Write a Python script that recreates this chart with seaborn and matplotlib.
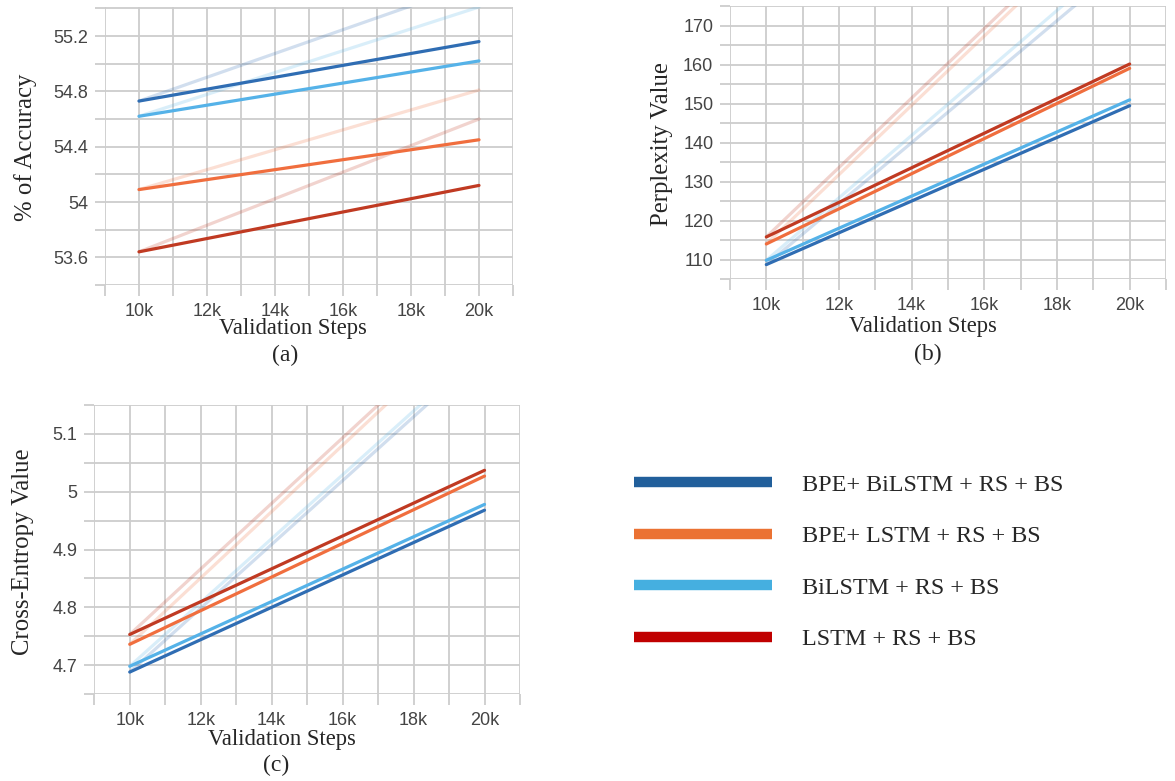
import numpy as np
import pandas as pd
import matplotlib
matplotlib.use("Agg")
import matplotlib.pyplot as plt
from matplotlib.lines import Line2D
import seaborn as sns

# ---------------- data ----------------
steps = [10000, 20000]
series_names = ["BPE+ BiLSTM + RS + BS", "BPE+ LSTM + RS + BS",
                "BiLSTM + RS + BS", "LSTM + RS + BS"]

# (a) accuracy
acc_bpe_bilstm = [54.73, 55.16]
acc_bpe_lstm = [54.09, 54.45]
acc_bilstm = [54.62, 55.02]
acc_lstm = [53.64, 54.12]
acc_bpe_bilstm_raw = [54.73, 55.59]
acc_bpe_lstm_raw = [54.09, 54.81]
acc_bilstm_raw = [54.62, 55.41]
acc_lstm_raw = [53.64, 54.60]

# (b) perplexity
ppl_bpe_bilstm = [108.7, 149.5]
ppl_bpe_lstm = [114.0, 159.1]
ppl_bilstm = [109.8, 151.0]
ppl_lstm = [115.8, 160.2]
ppl_bpe_bilstm_raw = [108.7, 187.0]
ppl_bpe_lstm_raw = [114.0, 203.0]
ppl_bilstm_raw = [109.8, 190.0]
ppl_lstm_raw = [115.8, 205.0]

# (c) cross-entropy
ce_bpe_bilstm = [4.688, 4.968]
ce_bpe_lstm = [4.736, 5.027]
ce_bilstm = [4.698, 4.978]
ce_lstm = [4.753, 5.037]
ce_bpe_bilstm_raw = [4.688, 5.24]
ce_bpe_lstm_raw = [4.736, 5.31]
ce_bilstm_raw = [4.698, 5.25]
ce_lstm_raw = [4.753, 5.32]

x_tick_labels = ["10k", "12k", "14k", "16k", "18k", "20k"]

plot_colors = ["#2f6db3", "#f06e3e", "#55b2e8", "#c03a22"]
legend_colors = ["#215f9b", "#eb7233", "#45afe0", "#c00000"]


def make_df(main, raw):
    rows = []
    for name, m, r in zip(series_names, main, raw):
        for s, v in zip(steps, m):
            rows.append({"step": s, "value": v, "series": name, "kind": "smooth"})
        for s, v in zip(steps, r):
            rows.append({"step": s, "value": v, "series": name, "kind": "raw"})
    return pd.DataFrame(rows)


df_a = make_df([acc_bpe_bilstm, acc_bpe_lstm, acc_bilstm, acc_lstm],
               [acc_bpe_bilstm_raw, acc_bpe_lstm_raw, acc_bilstm_raw, acc_lstm_raw])
df_b = make_df([ppl_bpe_bilstm, ppl_bpe_lstm, ppl_bilstm, ppl_lstm],
               [ppl_bpe_bilstm_raw, ppl_bpe_lstm_raw, ppl_bilstm_raw, ppl_lstm_raw])
df_c = make_df([ce_bpe_bilstm, ce_bpe_lstm, ce_bilstm, ce_lstm],
               [ce_bpe_bilstm_raw, ce_bpe_lstm_raw, ce_bilstm_raw, ce_lstm_raw])

# ---------------- style ----------------
sns.set_theme(style="white")
plt.rcParams["font.family"] = ["Liberation Serif", "DejaVu Serif"]

W, H = 1175, 781
fig = plt.figure(figsize=(W / 100, H / 100), dpi=100)
fig.patch.set_facecolor("white")


def px_axes(left, right, top, bottom):
    return fig.add_axes([left / W, 1 - bottom / H, (right - left) / W, (bottom - top) / H])


ax_a = px_axes(105, 513, 7, 285)
ax_b = px_axes(730, 1166, 6, 279)
ax_c = px_axes(94.3, 520, 405, 694)

palette = dict(zip(series_names, plot_colors))
grid_col = "#cdcdcd"
tick_font = dict(family=["Liberation Sans", "DejaVu Sans"], size=13, color="#444444")


def setup(ax, df, ylim, yticks, ylabels, ylabel, tag, xl_pos, tag_pos, yl_pos):
    raw = df[df.kind == "raw"]
    smooth = df[df.kind == "smooth"]
    sns.lineplot(data=raw, x="step", y="value", hue="series", palette=palette,
                 alpha=0.22, linewidth=2.3, legend=False, ax=ax, zorder=2)
    sns.lineplot(data=smooth, x="step", y="value", hue="series", palette=palette,
                 linewidth=2.3, legend=False, ax=ax, zorder=3)
    ax.set_xlim(9000, 21000)
    ax.set_ylim(*ylim)
    xt = np.arange(9000, 21001, 1000)
    ax.set_xticks(xt)
    lab_map = {10000 + 2000 * i: l for i, l in enumerate(x_tick_labels)}
    ax.set_xticklabels([lab_map.get(int(v), "") for v in xt], **tick_font)
    ax.set_yticks(yticks)
    ax.set_yticklabels(ylabels, **tick_font)
    ax.grid(True, color=grid_col, linewidth=1.3, zorder=0)
    ax.set_axisbelow(True)
    for sp in ax.spines.values():
        sp.set_visible(False)
    ax.tick_params(axis="both", which="major", direction="out", color=grid_col,
                   width=1.3, bottom=True, left=True)
    ax.tick_params(axis="x", length=8, pad=5)
    ax.tick_params(axis="y", length=7, pad=5)
    ax.set_xlabel("Validation Steps", fontsize=16.3)
    ax.xaxis.set_label_coords(*xl_pos)
    ax.xaxis.label.set_va("center")
    ax.set_ylabel(ylabel, fontsize=17.8)
    ax.yaxis.set_label_coords(*yl_pos)
    ax.yaxis.label.set_va("center")
    ax.text(tag_pos[0], tag_pos[1], tag, transform=ax.transAxes, fontsize=17,
            ha="center", va="center")


ya = np.round(np.arange(53.4, 55.41, 0.2), 2)
setup(ax_a, df_a, (53.4, 55.41), ya,
      [("54" if abs(v - 54) < 1e-6 else f"{v:.1f}") if i % 2 == 1 else "" for i, v in enumerate(ya)],
      "% of Accuracy", "(a)", (0.461, -0.156), (0.441, -0.252), (-0.196, 0.497))

yb = np.arange(105, 176, 5)
setup(ax_b, df_b, (105, 175.1), yb,
      [str(v) if v % 10 == 0 else "" for v in yb],
      "Perplexity Value", "(b)", (0.443, -0.175), (0.454, -0.278), (-0.157, 0.495))

yc = np.round(np.arange(4.65, 5.151, 0.05), 2)
setup(ax_c, df_c, (4.65, 5.15), yc,
      [(("5" if abs(v - 5) < 1e-6 else f"{v:.1f}") if round(v * 100) % 10 == 0 else "") for v in yc],
      "Cross-Entropy Value", "(c)", (0.44, -0.159), (0.428, -0.246), (-0.167, 0.492))

# ---------------- legend ----------------
handles = [Line2D([], [], color=c, linewidth=7.5, solid_capstyle="butt") for c in legend_colors]
fig.legend(handles, series_names, loc="upper left",
           bbox_to_anchor=(634 / W, 1 - 474 / H), frameon=False,
           fontsize=17.4, handlelength=5.7, handletextpad=1.25,
           labelspacing=1.22, borderpad=0, borderaxespad=0)

fig.savefig("out.png", dpi=100, facecolor="white")
